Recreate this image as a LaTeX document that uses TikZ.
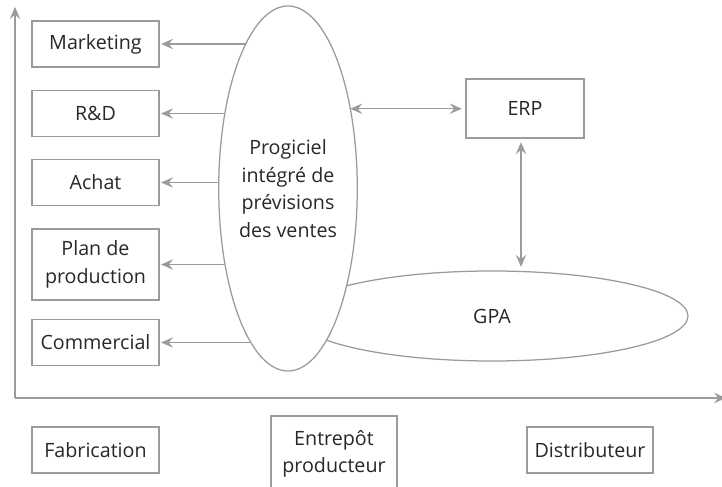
\documentclass[tikz,border=0pt]{standalone}
\usepackage{fontspec}
\setsansfont{Open Sans}
\usepackage{tikz}
\usetikzlibrary{arrows.meta,shapes.geometric,backgrounds,calc}
\definecolor{lgray}{RGB}{155,155,155}
\definecolor{tgray}{RGB}{40,40,40}

\begin{document}
\begin{tikzpicture}[
    box/.style={draw=lgray,line width=0.9pt,fill=white,text=tgray,
      font=\sffamily\fontsize{14}{19.5}\selectfont,align=center,
      inner sep=0pt,outer sep=0pt},
    oval/.style={box,ellipse},
    arr/.style={draw=lgray,line width=0.9pt,-{Stealth[length=3mm,width=2.6mm,inset=1.1mm]}},
    dblarr/.style={draw=lgray,line width=0.9pt,
      {Stealth[length=3mm,width=2.6mm,inset=1.1mm]}-{Stealth[length=3mm,width=2.6mm,inset=1.1mm]}}]
    \useasboundingbox (0,0) rectangle (18.05,12.15);
    % axes
    \coordinate (origin) at (0.375,2.2);
    \coordinate (ytop) at (0.375,11.975);
    \coordinate (xend) at (18.15,2.2);
    \draw[arr] (origin) -- (ytop);
    \draw[arr] (origin) -- (xend);
    % software
    \node[oval,minimum width=9.8cm,minimum height=2.25cm] (gpa) at (12.3,4.25) {GPA};
    \node[oval,minimum width=3.4cm,minimum height=9.125cm] (prog) at (7.2,7.4375)
      {Progiciel\\intégré de\\prévisions\\des ventes};
    \node[box,minimum width=2.95cm,minimum height=1.475cm] (erp) at (13.125,9.4375) {ERP};
    % services
    \foreach \n/\y/\h/\txt in {
      mk/11.05/1.15/Marketing,
      rd/9.3125/1.15/R\&D,
      ach/7.5875/1.15/Achat,
      plan/5.5375/1.775/{Plan de\\production},
      com/3.5875/1.15/Commercial}{
      \node[box,minimum width=3.175cm,minimum height=\h cm] (\n) at (2.3875,\y) {\txt};
    }
    \begin{pgfonlayer}{background}
      \foreach \n in {mk,rd,ach,plan,com}
        \draw[arr,shorten >=1.5pt] (\n.east -| prog.center) -- (\n.east);
    \end{pgfonlayer}
    \draw[dblarr,shorten >=3pt] (prog.52.7) -- (prog.52.7 -| erp.west);
    \draw[dblarr,shorten <=3pt,shorten >=3pt] ([xshift=-0.1cm]erp.south) -- ([xshift=-0.1cm]erp.south |- gpa.north);
    % sites
    \node[box,minimum width=3.175cm,minimum height=1.15cm] (fab) at (2.3875,0.9) {Fabrication};
    \node[box,minimum width=3.15cm,minimum height=1.9cm] (entr) at (8.35,0.8) {Entrepôt\\producteur};
    \node[box,minimum width=3.15cm,minimum height=1.15cm] (dist) at (14.75,0.9) {Distributeur};
  \end{tikzpicture}
\end{document}
